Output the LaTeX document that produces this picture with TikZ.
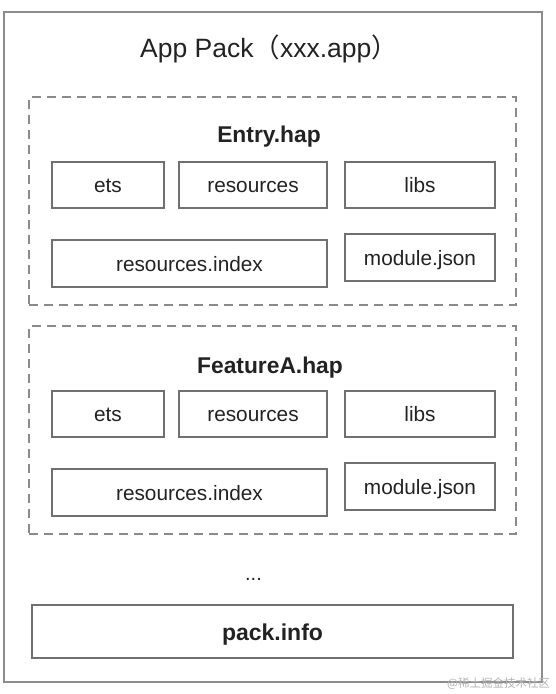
\documentclass[tikz,border=0pt]{standalone}
\usepackage{fontspec}
\setmainfont{Liberation Sans}
\newfontfamily\cjk{Noto Sans CJK SC}
\definecolor{boxgray}{HTML}{707070}
\definecolor{outergray}{HTML}{8C8C8C}
\definecolor{dashgray}{HTML}{8A8A8A}
\definecolor{txt}{HTML}{222222}
\begin{document}
\begin{tikzpicture}[x=1pt,y=-1pt,
  outerbox/.style={draw=outergray, line width=1.8pt, inner sep=0pt},
  hapbox/.style={draw=dashgray, line width=1.5pt, dash pattern=on 9pt off 6pt, inner sep=0pt},
  cell/.style={draw=boxgray, line width=1.4pt, inner sep=0pt, text=txt, text height=16.5pt, text depth=1.5pt, font=\fontsize{20.8}{23}\selectfont},
  haptitle/.style={text=txt, anchor=base, inner sep=0pt, font=\fontsize{22.8}{26}\selectfont\bfseries},
  apptitle/.style={text=txt, anchor=base, inner sep=0pt, font=\fontsize{26.5}{30}\selectfont}]
\useasboundingbox (0,0) rectangle (556,694);
\node[outerbox, minimum width=538pt, minimum height=670pt] (app) at (273,347) {};
\node[apptitle] (title) at (269,57) {App Pack{\cjk （}xxx.app{\cjk ）}};
% Entry.hap
\node[hapbox, minimum width=487pt, minimum height=208pt] (entry) at (272.5,201) {};
\node[haptitle] (entryT) at (269,142) {Entry.hap};
\node[cell, minimum width=112pt, minimum height=46pt] (e1) at (108,185) {ets};
\node[cell, minimum width=148pt, minimum height=46pt] (e2) at (253,185) {resources};
\node[cell, minimum width=150pt, minimum height=46pt] (e3) at (420,185) {libs};
\node[cell, minimum width=275pt, minimum height=47pt] (e4) at (189.5,263.5) {resources.index};
\node[cell, minimum width=150pt, minimum height=47pt] (e5) at (420,257.5) {module.json};
% FeatureA.hap
\node[hapbox, minimum width=487pt, minimum height=208pt] (feat) at (272.5,430) {};
\node[haptitle] (featT) at (270,373) {FeatureA.hap};
\node[cell, minimum width=112pt, minimum height=46pt] (f1) at (108,414) {ets};
\node[cell, minimum width=148pt, minimum height=46pt] (f2) at (253,414) {resources};
\node[cell, minimum width=150pt, minimum height=46pt] (f3) at (420,414) {libs};
\node[cell, minimum width=275pt, minimum height=47pt] (f4) at (189.5,492.5) {resources.index};
\node[cell, minimum width=150pt, minimum height=47pt] (f5) at (420,486.5) {module.json};
% dots and pack.info
\node[text=txt, anchor=base, inner sep=0pt, font=\fontsize{20}{22}\selectfont] (dots) at (253.5,580.5) {...};
\node[cell, minimum width=481pt, minimum height=53pt, text height=18pt, text depth=1pt, font=\fontsize{23}{26}\selectfont\bfseries] (pack) at (272.5,631.5) {pack.info};
% watermark
\node[text=black!30, font=\cjk\fontsize{11.5}{13}\selectfont, anchor=west, inner sep=0pt] (wm) at (447,684) {@稀土掘金技术社区};
\end{tikzpicture}
\end{document}
